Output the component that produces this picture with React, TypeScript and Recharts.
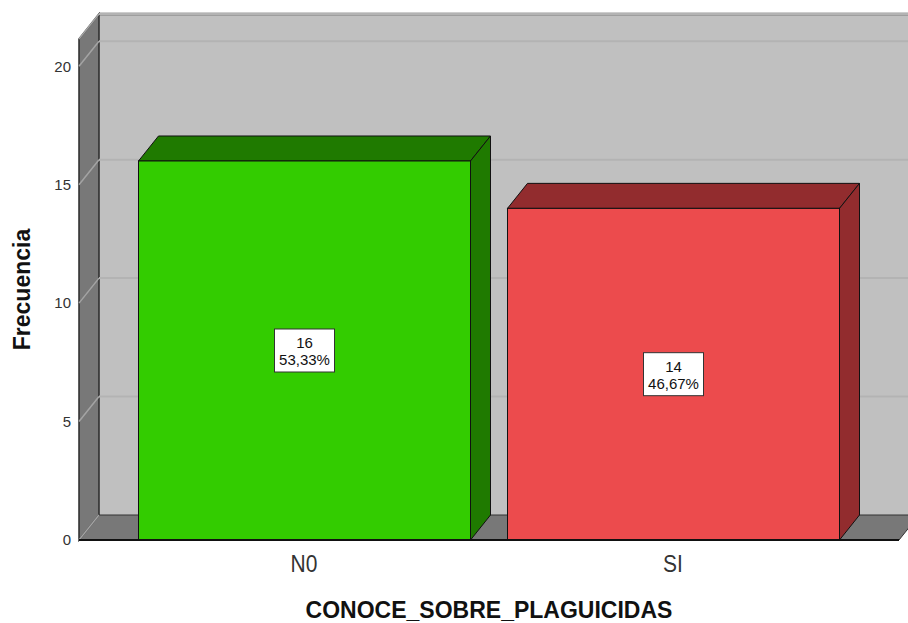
import { Bar, BarChart, CartesianGrid, Cell, LabelList, XAxis, YAxis } from "recharts";

// datos
const categorias = ["N0", "SI"];
const frecuencias = [16, 14];
const porcentajes = ["53,33%", "46,67%"];
const marcasEjeY = [0, 5, 10, 15, 20];

const datos = categorias.map((categoria, i) => ({
  categoria,
  frecuencia: frecuencias[i],
  porcentaje: porcentajes[i],
}));

// geometría y estilos
const W = 908;
const H = 623;
const ANCHO_EJE_Y = 79;
const ALTO_EJE_X = 83;
const MARGEN = { top: 39, right: 9, bottom: 0, left: 0 };
const IZQ = ANCHO_EJE_Y;
const DER = W - MARGEN.right;
const ARR = MARGEN.top;
const ABJ = H - ALTO_EJE_X;
const DX = 20;
const DY = -25;
const FUENTE = "'Liberation Sans', Arial, sans-serif";

const colorFrente = ["#33cc00", "#ec4b4d"];
const colorLado = ["#1f7a00", "#922c2e"];

function lineaFondo(p: any) {
  const { x1, y1, x2, index } = p;
  return (
    <g key={`grid-${index}`}>
      <line x1={x1} y1={y1} x2={x1 + DX} y2={y1 + DY} stroke="#a4a4a4" strokeWidth={1.5} />
      {y1 < ABJ - 1 && (
        <line x1={x1 + DX} y1={y1 + DY} x2={x2 + DX + 20} y2={y1 + DY} stroke="#b3b3b3" strokeWidth={2} />
      )}
    </g>
  );
}

function barra3D(p: any) {
  const { x, y, width: w, height: h, payload } = p;
  const i = Math.max(0, categorias.indexOf(payload?.categoria));
  const o = colorLado[i];
  return (
    <g>
      <polygon
        points={`${x},${y} ${x + DX},${y + DY} ${x + w + DX},${y + DY} ${x + w},${y}`}
        fill={o}
        stroke="#111"
        strokeLinejoin="round"
      />
      <polygon
        points={`${x + w},${y} ${x + w + DX},${y + DY} ${x + w + DX},${y + h + DY} ${x + w},${y + h}`}
        fill={o}
        stroke="#111"
        strokeLinejoin="round"
      />
      <rect x={x} y={y} width={w} height={h} fill={colorFrente[i]} stroke="#111" />
    </g>
  );
}

function etiqueta(p: any) {
  const { x, y, width, height, value, index } = p;
  const cx = x + width / 2;
  const cy = y + height / 2;
  const pct = porcentajes[index] ?? porcentajes[frecuencias.indexOf(value)];
  return (
    <g>
      <rect x={cx - 30} y={cy - 21.5} width={60} height={43} fill="#fff" stroke="#333" />
      <text x={cx} y={cy - 2.5} textAnchor="middle" fontSize={15} fontFamily={FUENTE} fill="#111">
        {value}
      </text>
      <text x={cx} y={cy + 14.5} textAnchor="middle" fontSize={15} fontFamily={FUENTE} fill="#111">
        {pct}
      </text>
    </g>
  );
}

function marcaX(p: any) {
  const { x, payload } = p;
  return (
    <text
      transform={`translate(${x}, ${ABJ + 32}) scale(1, 1.13)`}
      textAnchor="middle"
      fontSize={21}
      fontFamily={FUENTE}
      fill="#333"
    >
      {payload.value}
    </text>
  );
}

function Paredes() {
  return (
    <svg width={W} height={H} style={{ position: "absolute", left: 0, top: 0 }}>
      <rect x={IZQ + DX} y={ARR + DY} width={W} height={ABJ - ARR} fill="#c0c0c0" />
      <polygon
        points={`${IZQ},${ABJ} ${IZQ + DX},${ABJ + DY} ${DER + DX},${ABJ + DY} ${DER},${ABJ}`}
        fill="#787878"
        stroke="#333"
      />
      <polygon
        points={`${IZQ},${ARR} ${IZQ + DX},${ARR + DY} ${IZQ + DX},${ABJ + DY} ${IZQ},${ABJ}`}
        fill="#787878"
        stroke="#2a2a2a"
        strokeWidth={1.5}
      />
      <line x1={IZQ + DX} y1={ARR + DY} x2={W} y2={ARR + DY} stroke="#3a3a3a" strokeWidth={2.5} />
    </svg>
  );
}

export default function App() {
  return (
    <div style={{ position: "absolute", left: 0, top: 0, width: W, height: H, background: "#fff" }}>
      <Paredes />
      <div style={{ position: "absolute", left: 0, top: 0 }}>
        <BarChart width={W} height={H} data={datos} margin={MARGEN} barSize={332}>
          <CartesianGrid vertical={false} horizontal={lineaFondo} stroke="none" />
          <XAxis
            dataKey="categoria"
            height={ALTO_EJE_X}
            padding={{ left: 40.5, right: 41.5 }}
            tickLine={false}
            axisLine={{ stroke: "#111", strokeWidth: 2 }}
            tick={marcaX}
            label={(p: any) => (
              <text
                x={p.viewBox.x + p.viewBox.width / 2}
                y={p.viewBox.y + 78}
                textAnchor="middle"
                fontSize={23}
                fontWeight="bold"
                fontFamily={FUENTE}
                fill="#111"
              >
                CONOCE_SOBRE_PLAGUICIDAS
              </text>
            )}
          />
          <YAxis
            width={ANCHO_EJE_Y}
            domain={[0, 21.15]}
            ticks={marcasEjeY}
            interval={0}
            axisLine={false}
            tickLine={false}
            tick={{ fontSize: 15, fill: "#333", fontFamily: FUENTE }}
            label={(p: any) => {
              const cx = 30;
              const cy = p.viewBox.y + p.viewBox.height / 2;
              return (
                <text
                  x={cx}
                  y={cy}
                  transform={`rotate(-90, ${cx}, ${cy})`}
                  textAnchor="middle"
                  fontSize={23}
                  fontWeight="bold"
                  fontFamily={FUENTE}
                  fill="#111"
                >
                  Frecuencia
                </text>
              );
            }}
          />
          <Bar dataKey="frecuencia" shape={barra3D} isAnimationActive={false}>
            {datos.map((d, i) => (
              <Cell key={d.categoria} fill={colorFrente[i]} />
            ))}
            <LabelList dataKey="frecuencia" content={etiqueta} />
          </Bar>
        </BarChart>
      </div>
    </div>
  );
}
